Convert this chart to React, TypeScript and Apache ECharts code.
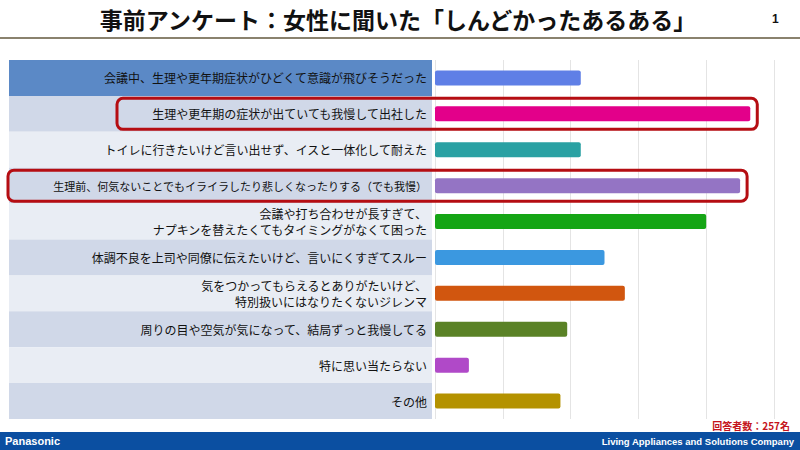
import React, { useEffect, useRef } from "react";
import * as echarts from "echarts";

const categories = [
  "会議中、生理や更年期症状がひどくて意識が飛びそうだった",
  "生理や更年期の症状が出ていても我慢して出社した",
  "トイレに行きたいけど言い出せず、イスと一体化して耐えた",
  "生理前、何気ないことでもイライラしたり悲しくなったりする（でも我慢）",
  "会議や打ち合わせが長すぎて、\nナプキンを替えたくてもタイミングがなくて困った",
  "体調不良を上司や同僚に伝えたいけど、言いにくすぎてスルー",
  "気をつかってもらえるとありがたいけど、\n特別扱いにはなりたくないジレンマ",
  "周りの目や空気が気になって、結局ずっと我慢してる",
  "特に思い当たらない",
  "その他",
];
const values = [21.5, 46.5, 21.5, 45, 40, 25, 28, 19.5, 5, 18.5];
const barColors = [
  "#5f7fe6", "#e3008a", "#2aa1a3", "#9474c4", "#15a515",
  "#3b98e0", "#d1560f", "#5a8226", "#b049c8", "#b49200",
];
const rowColors = [
  "#5b89c6", "#d0d8e8", "#e9edf4", "#d0d8e8", "#e9edf4",
  "#d0d8e8", "#e9edf4", "#d0d8e8", "#e9edf4", "#d0d8e8",
];
const highlighted = [1, 3];
const highlightLeft = [117, 8];
const title = "事前アンケート：女性に聞いた「しんどかったあるある」";
const respondents = "回答者数：257名";

const FONT = "'Noto Sans CJK JP', 'Noto Sans', sans-serif";

export default function App() {
  const ref = useRef<HTMLDivElement>(null);
  useEffect(() => {
    if (!ref.current) return;
    const chart = echarts.init(ref.current, null, { renderer: "svg" });
    const option: any = {
      animation: false,
      backgroundColor: "#ffffff",
      textStyle: { fontFamily: FONT },
      grid: [
        { left: 435, right: 26, top: 60, bottom: 31 },
        { left: 9, right: 368, top: 60, bottom: 31 },
      ],
      xAxis: [
        {
          type: "value", gridIndex: 0, min: 0, max: 50, interval: 10,
          axisLabel: { show: false }, axisLine: { show: false }, axisTick: { show: false },
          splitLine: { show: true, lineStyle: { color: "#e4e4e4", width: 1 } },
        },
        {
          type: "value", gridIndex: 1, min: 0, max: 1, show: false,
        },
      ],
      yAxis: [
        {
          type: "category", gridIndex: 0, data: categories, inverse: true, z: 10,
          axisLine: { show: false }, axisTick: { show: false },
          axisLabel: {
            margin: 8, color: "#111", fontSize: 12, lineHeight: 16, fontFamily: FONT,
            formatter: (v: string) => (v.length > 30 && v.indexOf("\n") < 0 ? "{s|" + v + "}" : v),
            rich: { s: { fontSize: 11, color: "#111", fontFamily: FONT } },
          },
        },
        {
          type: "category", gridIndex: 1, data: categories, inverse: true, show: false,
        },
      ],
      series: [
        {
          type: "bar", xAxisIndex: 0, yAxisIndex: 0, barWidth: 15, z: 3,
          data: values.map((v, i) => ({ value: v, itemStyle: { color: barColors[i], borderRadius: 2 } })),
        },
        {
          type: "bar", xAxisIndex: 1, yAxisIndex: 1, barWidth: "100%", z: 0, silent: true,
          data: rowColors.map((c) => ({ value: 1, itemStyle: { color: c } })),
        },
      ],
      graphic: [
        {
          type: "text", id: "title", x: 398, y: 19,
          style: { text: title, font: `bold 23px ${FONT}`, fill: "#111", align: "center", verticalAlign: "middle" },
        },
        {
          type: "text", id: "page", x: 772, y: 19,
          style: { text: "1", font: `bold 12px 'Liberation Sans', Arial, sans-serif`, fill: "#111", verticalAlign: "middle" },
        },
        {
          type: "line", id: "rule", shape: { x1: 0, y1: 38, x2: 800, y2: 38 },
          style: { stroke: "#8a826e", lineWidth: 2 },
        },
        {
          type: "text", id: "resp", x: 790, y: 425,
          style: { text: respondents, font: `bold 10px ${FONT}`, fill: "#c4141c", align: "right", verticalAlign: "middle" },
        },
        {
          type: "rect", id: "footer", shape: { x: 0, y: 432, width: 800, height: 18 },
          style: { fill: "#0b4fa1" },
        },
        {
          type: "text", id: "brand", x: 5, y: 441,
          style: { text: "Panasonic", font: `bold 11px 'Liberation Sans', Arial, sans-serif`, fill: "#ffffff", verticalAlign: "middle" },
        },
        {
          type: "text", id: "company", x: 794, y: 441,
          style: { text: "Living Appliances and Solutions Company", font: `bold 9.5px 'Liberation Sans', Arial, sans-serif`, fill: "#ffffff", align: "right", verticalAlign: "middle" },
        },
      ],
    };
    chart.setOption(option);

    const boxes = highlighted.map((idx, k) => {
      const p = chart.convertToPixel({ xAxisIndex: 0, yAxisIndex: 0 }, [values[idx], idx]) as number[];
      const x0 = highlightLeft[k];
      return {
        type: "rect", id: "hl" + k, z: 20,
        shape: { x: x0, y: p[1] - 15.5, width: p[0] + 7 - x0, height: 31, r: 6 },
        style: { fill: "none", stroke: "#b50d12", lineWidth: 3 },
      };
    });
    chart.setOption({ graphic: boxes });

    return () => chart.dispose();
  }, []);
  return (
    <div
      ref={ref}
      style={{ position: "absolute", left: 0, top: 0, width: 800, height: 450 }}
    />
  );
}
